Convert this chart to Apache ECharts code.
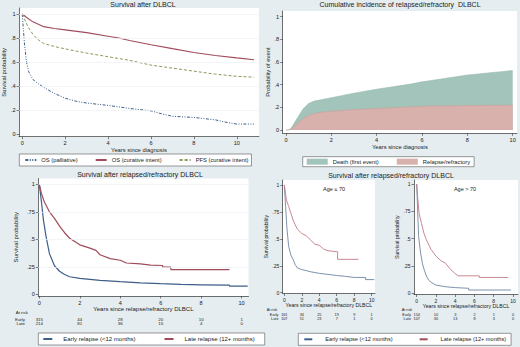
<!DOCTYPE html>
<html>
<head>
<meta charset="utf-8">
<script src="https://cdn.jsdelivr.net/npm/echarts@6/dist/echarts.min.js"></script>
<style>
  html, body { margin: 0; padding: 0; background: #e5edf0; }
  #main { width: 520px; height: 347px; }
</style>
</head>
<body>
<div id="main"></div>
<script>
// ---- data ----
// panel 1: survival after DLBCL  [years, probability]
const osPalliative = [[0,1],[0.05,0.88],[0.1,0.76],[0.2,0.6],[0.3,0.52],[0.5,0.455],[0.75,0.42],[1,0.39],[1.5,0.34],[2,0.3],[2.5,0.275],[3,0.26],[4,0.24],[5,0.215],[5.5,0.205],[6,0.195],[6.5,0.17],[7,0.15],[7.5,0.145],[8,0.14],[8.5,0.13],[9,0.12],[9.5,0.1],[10,0.085],[10.8,0.085]]
const osCurative = [[0,1],[0.25,0.965],[0.5,0.935],[1,0.895],[1.5,0.88],[2,0.868],[3,0.845],[4,0.815],[4.5,0.8],[5,0.78],[6,0.745],[7,0.712],[8,0.68],[9,0.655],[10,0.635],[10.8,0.62]]
const pfsCurative = [[0,1],[0.25,0.9],[0.5,0.83],[0.75,0.785],[1,0.755],[1.5,0.73],[2,0.71],[3,0.675],[4,0.645],[5,0.615],[6,0.575],[7,0.55],[8,0.525],[9,0.5],[10,0.482],[10.8,0.475]]

// panel 2: cumulative incidence, upper edge (any first event) and relapse band
const ciYears = [0,0.1,0.2,0.3,0.5,0.75,1,1.25,1.5,2,2.5,3,3.5,4,4.5,5,5.5,6,6.5,7,7.5,8,8.5,9,9.5,10]
const ciAnyEvent = [0,0,0.01,0.04,0.105,0.185,0.235,0.255,0.265,0.285,0.305,0.325,0.343,0.36,0.375,0.39,0.405,0.425,0.44,0.455,0.47,0.485,0.495,0.505,0.515,0.525]
const ciRelapse = [0,0,0.005,0.02,0.06,0.1,0.13,0.145,0.155,0.165,0.172,0.18,0.185,0.19,0.195,0.2,0.205,0.21,0.212,0.213,0.215,0.216,0.217,0.218,0.219,0.22]

// panel 3: survival after relapsed/refractory DLBCL
const early3 = [[0,1],[0.1,0.85],[0.2,0.68],[0.33,0.53],[0.5,0.37],[0.75,0.26],[1,0.21],[1.25,0.18],[1.5,0.16],[2,0.145],[3,0.127],[4,0.115],[5,0.105],[6,0.097],[7,0.09],[8,0.087],[9.4,0.083],[9.4,0.075],[10.3,0.075]]
const late3 = [[0,1],[0.1,0.92],[0.25,0.84],[0.5,0.75],[0.75,0.69],[1,0.62],[1.25,0.56],[1.5,0.51],[2,0.45],[2.5,0.42],[2.8,0.4],[3,0.36],[3.5,0.325],[4,0.31],[4.3,0.285],[5,0.277],[5.5,0.265],[6.1,0.262],[6.1,0.247],[6.5,0.247],[6.5,0.225],[9.4,0.225]]

// panel 4: by age
const early70 = [[0,1],[0.15,0.8],[0.3,0.6],[0.5,0.43],[0.75,0.35],[1,0.31],[1.25,0.26],[1.5,0.23],[2,0.215],[3,0.195],[4,0.18],[5,0.17],[6,0.16],[7,0.152],[8,0.142],[9.3,0.142],[9.3,0.122],[10.3,0.122]]
const late70 = [[0,1],[0.25,0.86],[0.5,0.8],[0.75,0.74],[1,0.675],[1.25,0.63],[1.5,0.59],[2,0.55],[2.5,0.53],[3,0.49],[3.5,0.45],[4,0.44],[4.5,0.405],[5,0.39],[6.1,0.38],[6.1,0.31],[8.5,0.31]]
const earlyOld = [[0,1],[0.1,0.75],[0.2,0.52],[0.4,0.37],[0.6,0.27],[0.8,0.21],[1,0.16],[1.25,0.12],[1.5,0.1],[2,0.075],[3,0.06],[4,0.052],[5.4,0.046],[5.4,0.03],[9.8,0.03]]
const lateOld = [[0,1],[0.1,0.88],[0.25,0.73],[0.5,0.64],[0.75,0.55],[1,0.49],[1.5,0.4],[2,0.34],[2.5,0.3],[3,0.275],[3.5,0.22],[4,0.18],[4.3,0.16],[6.5,0.16],[6.5,0.145],[9.5,0.145]]

// number at risk
const riskYears = [0,2,4,6,8,10]
const risk3Early = [315,44,28,20,10,1]
const risk3Late = [214,81,36,15,4,0]
const risk70Early = [161,34,25,19,9,1]
const risk70Late = [107,51,23,7,1,0]
const riskOldEarly = [154,10,3,2,1,0]
const riskOldLate = [107,30,13,8,3,0]

const xTicks = [0,2,4,6,8,10]
const yTicks5 = [0,0.2,0.4,0.6,0.8,1]
const yTicks4 = [0,0.25,0.5,0.75,1]

const FONT = 'Liberation Sans, Arial, sans-serif'
const TXT = '#222'
const AX = '#333'
const NAVY = '#3d5f88'
const MAROON = '#a04b5a'
const OLIVE = '#8d9a5c'
const NAVY_L = '#6f86a4'
const MAROON_L = '#c27a88'

// plot regions (grid boxes) and axis ranges
const panels = [
  { box: [17.5, 8, 258.9, 136.7], x: [-0.148, 11.03], y: [-0.02, 1.05], yTicks: yTicks5,
    xName: 'Years since diagnosis', yName: 'Survival probability', xGap: 9.5, yGap: 10, tick: 5.6, name: 5.8 },
  { box: [282.7, 11, 517, 133.3], x: [-0.146, 10.19], y: [-0.029, 1.05], yTicks: yTicks5,
    xName: 'Years since diagnosis', yName: 'Probability of event', xGap: 9, yGap: 11, tick: 5.6, name: 5.8 },
  { box: [38.3, 178.5, 248.5, 296], x: [-0.05, 10.34], y: [-0.015, 1.053], yTicks: yTicks4,
    xName: 'Years since relapse/refractory DLBCL', yName: 'Survival probability', xGap: 8, yGap: 19, tick: 5.6, name: 6 },
  { box: [282.7, 180, 375, 293.5], x: [-0.183, 10.38], y: [-0.007, 1.046], yTicks: yTicks4,
    xName: 'Years since relapse/refractory DLBCL', yName: 'Survival probability', xGap: 8.5, yGap: 13, tick: 5, name: 5.2 },
  { box: [414, 180, 518, 294.5], x: [-0.28, 10.52], y: [-0.011, 1.037], yTicks: yTicks4,
    xName: 'Years since relapse/refractory DLBCL', yName: 'Survival probability', xGap: 8.5, yGap: 13, tick: 5, name: 5.2 }
]

function yFmt(v) {
  if (v === 0) return '0'
  if (v === 1) return '1'
  return String(+v.toFixed(2)).replace(/^0/, '')
}

const grids = [], xAxes = [], yAxes = []
panels.forEach((p, i) => {
  grids.push({ left: p.box[0], top: p.box[1], width: p.box[2] - p.box[0], height: p.box[3] - p.box[1],
    show: true, backgroundColor: '#fff', borderWidth: 0 })
  const nameStyle = { fontSize: p.name, color: TXT, fontFamily: FONT }
  xAxes.push({
    type: 'value', gridIndex: i, min: p.x[0], max: p.x[1],
    name: p.xName, nameLocation: 'middle', nameGap: p.xGap, nameTextStyle: nameStyle,
    axisLine: { onZero: false, lineStyle: { color: AX, width: 0.7 } },
    axisTick: { customValues: xTicks, length: 2.5, lineStyle: { color: AX, width: 0.6 } },
    axisLabel: { customValues: xTicks, fontSize: p.tick, color: TXT, fontFamily: FONT, margin: 3.5 },
    splitLine: { show: false }
  })
  yAxes.push({
    type: 'value', gridIndex: i, min: p.y[0], max: p.y[1],
    name: p.yName, nameLocation: 'middle', nameGap: p.yGap, nameRotate: 90, nameTextStyle: nameStyle,
    axisLine: { onZero: false, lineStyle: { color: AX, width: 0.7 } },
    axisTick: { customValues: p.yTicks, length: 2.5, lineStyle: { color: AX, width: 0.6 } },
    axisLabel: { customValues: p.yTicks, fontSize: p.tick, color: TXT, fontFamily: FONT, margin: 3.5, formatter: yFmt },
    splitLine: { show: false }
  })
})

function km(name, data, idx, color, width, type) {
  return { type: 'line', name: name, data: data, xAxisIndex: idx, yAxisIndex: idx,
    symbol: 'none', z: 3, animation: false, silent: true,
    lineStyle: { color: color, width: width, type: type || 'solid' }, itemStyle: { color: color } }
}

function gridLines(idx, ticks) {
  return { type: 'line', data: [], xAxisIndex: idx, yAxisIndex: idx, z: 1, animation: false, silent: true,
    markLine: { silent: true, symbol: 'none', label: { show: false }, animation: false,
      lineStyle: { color: '#edf1f3', type: 'solid', width: 0.7 },
      data: ticks.filter(v => v > 0).map(v => ({ yAxis: v })) } }
}

function band(name, years, values, fill, edge, z) {
  return { type: 'line', name: name, xAxisIndex: 1, yAxisIndex: 1, symbol: 'none', z: z,
    animation: false, silent: true, data: years.map((t, k) => [t, values[k]]),
    lineStyle: { width: 0.5, color: edge }, itemStyle: { color: fill },
    areaStyle: { color: fill, opacity: 1, origin: 0 } }
}

const series = [
  gridLines(0, yTicks5),
  km('OS (palliative)', osPalliative, 0, NAVY, 1, [3, 1.5, 1, 1.5, 1, 1.5]),
  km('OS (curative intent)', osCurative, 0, MAROON, 1.1),
  km('PFS (curative intent)', pfsCurative, 0, OLIVE, 1, [3, 2]),
  band('Death (first event)', ciYears, ciAnyEvent, '#a3c4ba', '#8fb2a7', 2),
  band('Relapse/refractory', ciYears, ciRelapse, '#d8b0ac', '#c99d99', 3),
  gridLines(2, yTicks4),
  km('Early relapse (<12 months)', early3, 2, NAVY, 1.2),
  km('Late relapse (12+ months)', late3, 2, MAROON, 1.2),
  km('Early relapse (<12 months)', early70, 3, NAVY_L, 0.9),
  km('Late relapse (12+ months)', late70, 3, MAROON_L, 0.9),
  km('Early relapse (<12 months)', earlyOld, 4, NAVY_L, 0.9),
  km('Late relapse (12+ months)', lateOld, 4, MAROON_L, 0.9)
]

const legendBase = {
  orient: 'horizontal', selectedMode: false, backgroundColor: '#fff', borderColor: '#555', borderWidth: 0.6,
  itemHeight: 6, textStyle: { fontSize: 5.8, color: TXT, fontFamily: FONT }
}
const noDot = { opacity: 0 }
const legends = [
  Object.assign({}, legendBase, { left: 19.3, top: 154, itemWidth: 11, itemGap: 17, padding: [3, 3, 3, 5], itemStyle: noDot,
    data: ['OS (palliative)', 'OS (curative intent)', 'PFS (curative intent)'] }),
  Object.assign({}, legendBase, { left: 302.7, top: 156.7, itemWidth: 21, itemGap: 18, padding: [2, 4, 2, 4], icon: 'rect',
    data: ['Death (first event)', 'Relapse/refractory'] }),
  Object.assign({}, legendBase, { left: 38.3, top: 333, itemWidth: 9, itemGap: 28, padding: [3, 10, 3, 4], itemStyle: noDot,
    textStyle: { fontSize: 6, color: TXT, fontFamily: FONT, padding: [0, 0, 0, 6] },
    data: ['Early relapse (<12 months)', 'Late relapse (12+ months)'] }),
  Object.assign({}, legendBase, { left: 298.3, top: 333.3, itemWidth: 8, itemGap: 26, padding: [3, 5, 3, 5], itemStyle: noDot,
    textStyle: { fontSize: 5.6, color: TXT, fontFamily: FONT, padding: [0, 0, 0, 8] },
    data: ['Early relapse (<12 months)', 'Late relapse (12+ months)'] })
]

const chart = echarts.init(document.getElementById('main'), null, { renderer: 'svg' })
chart.setOption({
  backgroundColor: '#e5edf0',
  animation: false,
  grid: grids, xAxis: xAxes, yAxis: yAxes,
  legend: legends,
  series: series
})

// titles, panel labels and number-at-risk tables
function txt(str, x, y, size, align) {
  return { type: 'text', x: x, y: y, silent: true, z: 10,
    style: { text: str, fontSize: size, fontFamily: FONT, fill: TXT, align: align || 'center', verticalAlign: 'middle' } }
}
const g = [
  txt('Survival after DLBCL', 143, 4.3, 7),
  txt('Cumulative incidence of relapsed/refractory  DLBCL', 400, 4.3, 7),
  txt('Survival after relapsed/refractory DLBCL', 140, 174.7, 7),
  txt('Survival after relapsed/refractory DLBCL', 391, 175, 7),
  txt('Age \u2264 70', 334, 189.3, 5.5),
  txt('Age > 70', 465, 189.3, 5.5)
]

function riskTable(idx, early, late, labelX, rows, size) {
  g.push(txt('At risk', labelX[0], rows[0], size, 'left'))
  g.push(txt('Early', labelX[1], rows[1], size, 'right'))
  g.push(txt('Late', labelX[1], rows[2], size, 'right'))
  riskYears.forEach((t, k) => {
    const px = chart.convertToPixel({ gridIndex: idx }, [t, 0])[0]
    g.push(txt(String(early[k]), px, rows[1], size))
    g.push(txt(String(late[k]), px, rows[2], size))
  })
}
riskTable(2, risk3Early, risk3Late, [15.7, 25], [312.7, 319, 323.7], 4.4)
riskTable(3, risk70Early, risk70Late, [266.7, 278.5], [310.3, 315, 319.3], 3.8)
riskTable(4, riskOldEarly, riskOldLate, [401.7, 411], [310.3, 315, 319.3], 3.8)

chart.setOption({ graphic: g })
</script>
</body>
</html>
